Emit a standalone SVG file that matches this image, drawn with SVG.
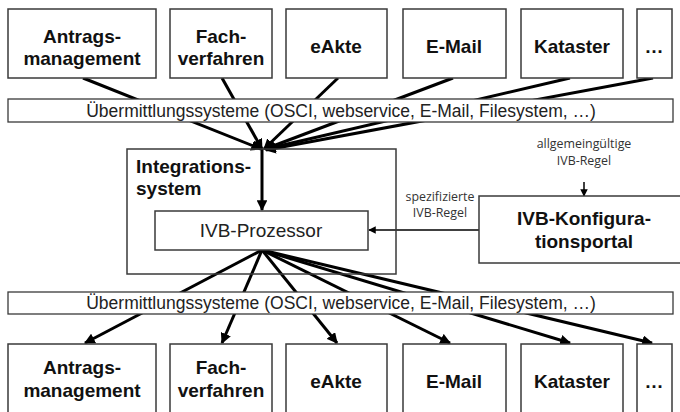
<svg xmlns="http://www.w3.org/2000/svg" width="680" height="412" viewBox="0 0 680 412">
<defs>
<style>
.box{fill:#fff;stroke:#3a3a3a;stroke-width:1.5}
.bar{fill:#fff;stroke:#3a3a3a;stroke-width:1.3}
.big{font-family:"Liberation Sans",Arial,sans-serif;font-weight:bold;font-size:19px;fill:#111;text-anchor:middle}
.reg{font-family:"Liberation Sans",Arial,sans-serif;font-size:17.5px;fill:#222;text-anchor:middle}
.small{font-family:"Open Sans","Noto Sans",sans-serif;font-size:12.4px;fill:#333;text-anchor:middle}
.ln{stroke:#000;stroke-width:3;fill:none}
.thin{stroke:#000;stroke-width:1.5;fill:none}
</style>
<marker id="ah" viewBox="0 0 10 10" refX="9" refY="5" markerWidth="3.6" markerHeight="3.6" orient="auto" markerUnits="strokeWidth">
<path d="M0,0 L10,5 L0,10 z" fill="#000"/>
</marker>
<marker id="ahs" viewBox="0 0 10 10" refX="9" refY="5" markerWidth="5" markerHeight="5" orient="auto" markerUnits="strokeWidth">
<path d="M0,0 L10,5 L0,10 z" fill="#000"/>
</marker>
</defs>
<rect width="680" height="412" fill="#fff"/>

<g id="connectors">
<line class="ln" x1="83" y1="78" x2="261" y2="149" marker-end="url(#ah)"/>
<line class="ln" x1="222" y1="78" x2="262" y2="149" marker-end="url(#ah)"/>
<line class="ln" x1="338" y1="78" x2="264" y2="149" marker-end="url(#ah)"/>
<line class="ln" x1="453" y1="78" x2="265" y2="149" marker-end="url(#ah)"/>
<line class="ln" x1="570" y1="78" x2="266" y2="149" marker-end="url(#ah)"/>
<line class="ln" x1="653" y1="78" x2="266" y2="150" marker-end="url(#ah)"/>
<line class="ln" x1="262" y1="149" x2="262" y2="210" marker-end="url(#ah)"/>
<line class="ln" x1="262" y1="250" x2="85" y2="343" marker-end="url(#ah)"/>
<line class="ln" x1="262" y1="250" x2="222" y2="343" marker-end="url(#ah)"/>
<line class="ln" x1="262" y1="250" x2="337" y2="343" marker-end="url(#ah)"/>
<line class="ln" x1="262" y1="250" x2="450" y2="343" marker-end="url(#ah)"/>
<line class="ln" x1="262" y1="250" x2="570" y2="343" marker-end="url(#ah)"/>
<line class="ln" x1="262" y1="250" x2="652" y2="343" marker-end="url(#ah)"/>
<line class="thin" x1="479" y1="230" x2="369" y2="230" marker-end="url(#ahs)"/>
<line class="thin" x1="584" y1="182" x2="584" y2="196" marker-end="url(#ahs)"/>
</g>

<g id="top-antrag"><rect class="box" x="8" y="9" width="148" height="69"/><text class="big" x="82" y="43">Antrags-</text><text class="big" x="82" y="65">management</text></g>
<g id="top-fach"><rect class="box" x="170" y="9" width="102" height="69"/><text class="big" x="221" y="43">Fach-</text><text class="big" x="221" y="65">verfahren</text></g>
<g id="top-eakte"><rect class="box" x="286" y="9" width="101" height="69"/><text class="big" x="336" y="53">eAkte</text></g>
<g id="top-email"><rect class="box" x="403" y="9" width="103" height="69"/><text class="big" x="454" y="53">E-Mail</text></g>
<g id="top-kataster"><rect class="box" x="521" y="9" width="102" height="69"/><text class="big" x="572" y="53">Kataster</text></g>
<g id="top-more"><rect class="box" x="637" y="9" width="35" height="69"/><text class="big" x="654" y="53">…</text></g>

<g id="bar-top"><rect class="bar" x="8" y="99" width="665" height="23"/><text class="reg" x="341" y="117">Übermittlungssysteme (OSCI, webservice, E-Mail, Filesystem, …)</text></g>

<g id="integrationssystem"><rect class="box" x="127" y="149" width="269" height="125" style="fill:none"/><text class="big" x="136" y="173" style="text-anchor:start">Integrations-</text><text class="big" x="136" y="195" style="text-anchor:start">system</text></g>
<g id="ivb-prozessor"><rect class="box" x="155" y="211" width="213" height="39"/><text class="reg" x="261" y="237" style="font-size:19px">IVB-Prozessor</text></g>

<g id="konfig"><rect class="box" x="479" y="196" width="210" height="67"/><text class="big" x="584" y="225">IVB-Konfigura-</text><text class="big" x="584" y="248">tionsportal</text></g>
<g id="label-allg"><text class="small" x="584" y="148">allgemeingültige</text><text class="small" x="584" y="165">IVB-Regel</text></g>
<g id="label-spez"><text class="small" x="440" y="201">spezifizierte</text><text class="small" x="440" y="217">IVB-Regel</text></g>

<g id="bar-bottom"><rect class="bar" x="8" y="292" width="665" height="22"/><text class="reg" x="341" y="309">Übermittlungssysteme (OSCI, webservice, E-Mail, Filesystem, …)</text></g>

<g id="bot-antrag"><rect class="box" x="8" y="344" width="148" height="80"/><text class="big" x="82" y="374">Antrags-</text><text class="big" x="82" y="397">management</text></g>
<g id="bot-fach"><rect class="box" x="170" y="344" width="102" height="80"/><text class="big" x="221" y="374">Fach-</text><text class="big" x="221" y="397">verfahren</text></g>
<g id="bot-eakte"><rect class="box" x="286" y="344" width="101" height="80"/><text class="big" x="336" y="388">eAkte</text></g>
<g id="bot-email"><rect class="box" x="403" y="344" width="103" height="80"/><text class="big" x="454" y="388">E-Mail</text></g>
<g id="bot-kataster"><rect class="box" x="521" y="344" width="102" height="80"/><text class="big" x="572" y="388">Kataster</text></g>
<g id="bot-more"><rect class="box" x="637" y="344" width="35" height="80"/><text class="big" x="654" y="388">…</text></g>
</svg>
